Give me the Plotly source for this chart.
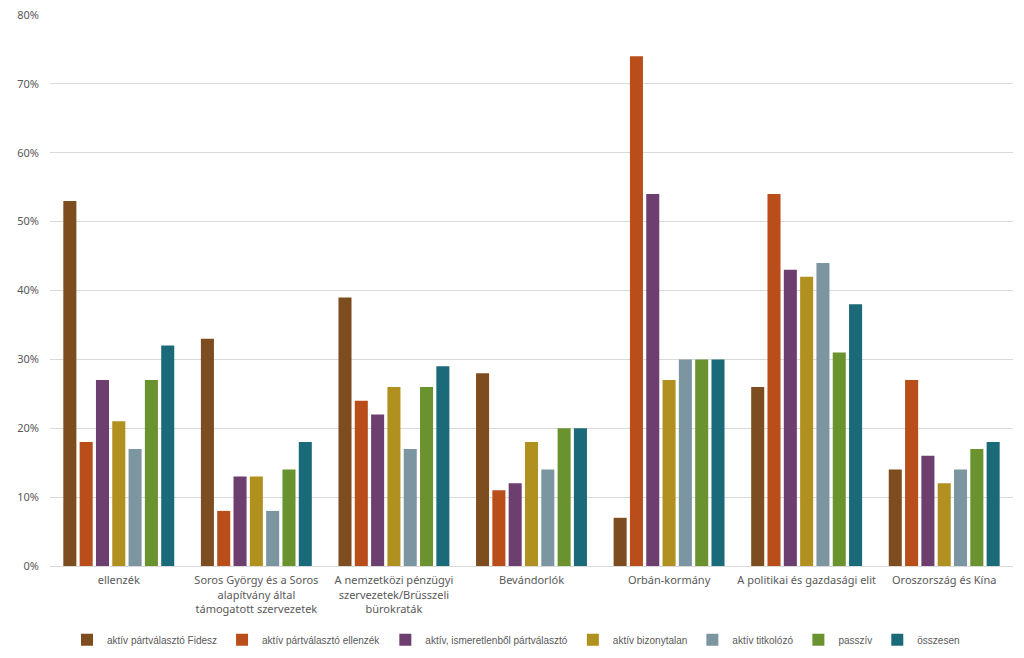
import plotly.graph_objects as go

categories = ["ellenzék",
              "Soros György és a Soros<br>alapítvány által<br>támogatott szervezetek",
              "A nemzetközi pénzügyi<br>szervezetek/Brüsszeli<br>bürokraták",
              "Bevándorlók",
              "Orbán-kormány",
              "A politikai és gazdasági elit",
              "Oroszország és Kína"]

series_names = ["aktív pártválasztó Fidesz",
                "aktív pártválasztó ellenzék",
                "aktív, ismeretlenből pártválasztó",
                "aktív bizonytalan",
                "aktív titkolózó",
                "passzív",
                "összesen"]

fidesz = [53, 33, 39, 28, 7, 26, 14]
ellenzek = [18, 8, 24, 11, 74, 54, 27]
ismeretlen = [27, 13, 22, 12, 54, 43, 16]
bizonytalan = [21, 13, 26, 18, 27, 42, 12]
titkolozo = [17, 8, 17, 14, 30, 44, 14]
passziv = [27, 14, 26, 20, 30, 31, 17]
osszesen = [32, 18, 29, 20, 30, 38, 18]

tick_vals = [0, 10, 20, 30, 40, 50, 60, 70, 80]
tick_text = ["0%", "10%", "20%", "30%", "40%", "50%", "60%", "70%", "80%"]

values = [fidesz, ellenzek, ismeretlen, bizonytalan, titkolozo, passziv, osszesen]
colors = ["#7E4D1F", "#B94E1B", "#6C3F6E", "#B0911F", "#7B96A0", "#6A922F", "#1B6A79"]

fig = go.Figure()
for name, vals, col in zip(series_names, values, colors):
    fig.add_trace(go.Bar(
        x=categories, y=vals, name=name,
        marker=dict(color=col, line=dict(width=0)),
    ))

fig.update_layout(
    width=1016, height=654,
    margin=dict(l=42, r=11, t=7, b=96, autoexpand=False),
    paper_bgcolor="white", plot_bgcolor="white",
    barmode="group", bargap=0.17, bargroupgap=0.2,
    font=dict(family="Noto Sans, Open Sans, sans-serif", size=11, color="#595959"),
    legend=dict(orientation="h", xref="container", yref="container",
                x=0.5, xanchor="center", y=0.034, yanchor="middle",
                font=dict(family="Liberation Sans, Arial, sans-serif", size=10, color="#595959"),
                itemwidth=30, traceorder="normal"),
    yaxis=dict(range=[0, 80], tickmode="array", tickvals=tick_vals, ticktext=tick_text,
               showgrid=True, gridcolor="#D9D9D9", gridwidth=1, zeroline=False, automargin=False,
               ticks="", ticklabelstandoff=10, showline=False, ticklabeloverflow="allow"),
    xaxis=dict(showline=True, linecolor="#D9D9D9", linewidth=1, ticks="", automargin=False,
               tickangle=0, ticklabelstandoff=4),
)

fig.write_html("out.html")
